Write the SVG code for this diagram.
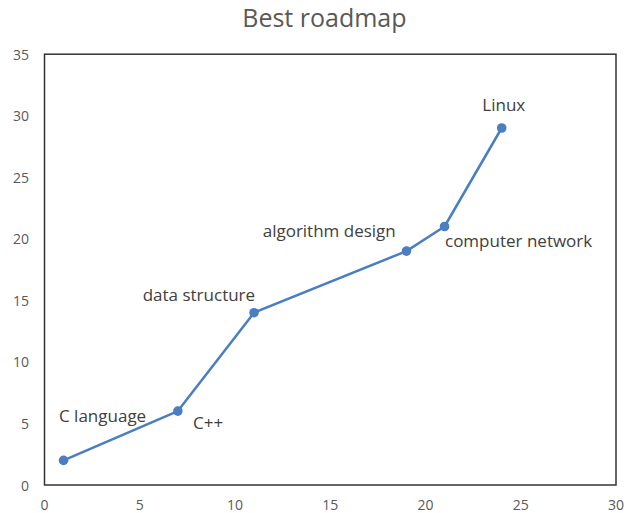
<svg xmlns="http://www.w3.org/2000/svg" width="624" height="513" viewBox="0 0 624 513">
<style>
text{font-family:"Open Sans","Liberation Sans",sans-serif;fill:#404040}
.tick{font-size:14px;fill:#595959}
.yt{text-anchor:end}
.xt{text-anchor:middle}
.lbl{font-size:17px}
.title{font-size:25px;fill:#595959;text-anchor:middle}
.series{fill:none;stroke:#4A7EC0;stroke-width:2.5;stroke-linejoin:round}
.pt{fill:#4A7EC0}
</style>
<rect width="624" height="513" fill="#fff"/>
<text class="title" x="324.4" y="27">Best roadmap</text>
<rect x="44.5" y="54.2" width="571.5" height="430.8" fill="none" stroke="#333" stroke-width="1.5"/>
<g id="y-axis">
<text class="tick yt" x="29" y="490.5">0</text>
<text class="tick yt" x="29" y="429">5</text>
<text class="tick yt" x="29" y="367.4">10</text>
<text class="tick yt" x="29" y="305.9">15</text>
<text class="tick yt" x="29" y="244.3">20</text>
<text class="tick yt" x="29" y="182.8">25</text>
<text class="tick yt" x="29" y="121.2">30</text>
<text class="tick yt" x="29" y="59.7">35</text>
</g>
<g id="x-axis">
<text class="tick xt" x="44.5" y="510">0</text>
<text class="tick xt" x="139.75" y="510">5</text>
<text class="tick xt" x="235" y="510">10</text>
<text class="tick xt" x="330.25" y="510">15</text>
<text class="tick xt" x="425.5" y="510">20</text>
<text class="tick xt" x="520.75" y="510">25</text>
<text class="tick xt" x="616" y="510">30</text>
</g>
<g id="connectors">
<polyline class="series" points="63.55,460.4 177.85,411.1 254.05,312.7 406.45,251.1 444.55,226.5 501.7,128"/>
</g>
<g id="node-c-language"><circle class="pt" cx="63.55" cy="460.4" r="4.8"/><text class="lbl" x="59" y="421.7">C language</text></g>
<g id="node-cpp"><circle class="pt" cx="177.85" cy="411.1" r="4.8"/><text class="lbl" x="193" y="429">C++</text></g>
<g id="node-data-structure"><circle class="pt" cx="254.05" cy="312.7" r="4.8"/><text class="lbl" x="142.7" y="300.7">data structure</text></g>
<g id="node-algorithm-design"><circle class="pt" cx="406.45" cy="251.1" r="4.8"/><text class="lbl" x="262.7" y="237.3">algorithm design</text></g>
<g id="node-computer-network"><circle class="pt" cx="444.55" cy="226.5" r="4.8"/><text class="lbl" x="445" y="246.7">computer network</text></g>
<g id="node-linux"><circle class="pt" cx="501.7" cy="128" r="4.8"/><text class="lbl" x="482.3" y="111">Linux</text></g>
</svg>
